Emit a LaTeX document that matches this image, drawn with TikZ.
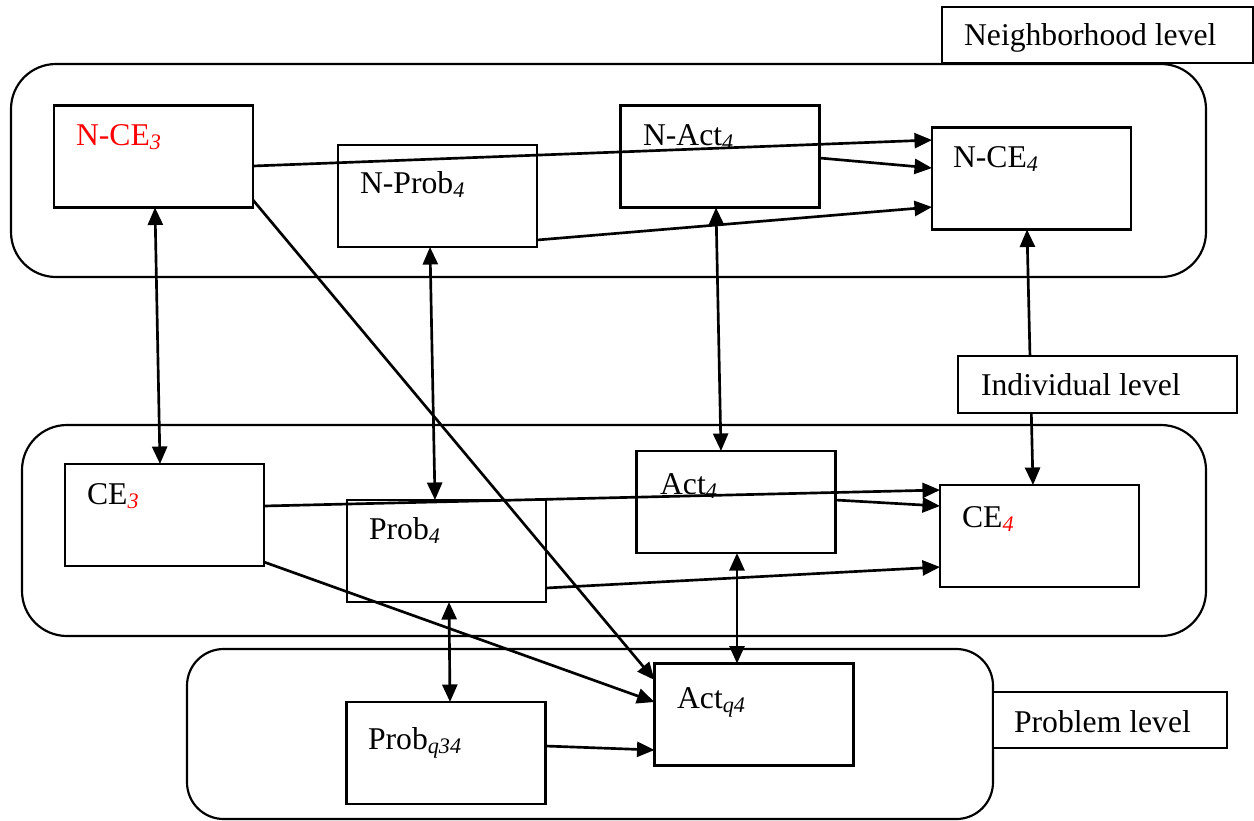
\documentclass[tikz,border=0pt]{standalone}
\usepackage{fontspec}
\setmainfont{Liberation Serif}
\usetikzlibrary{arrows.meta,calc}
\begin{document}
\begin{tikzpicture}[x=0.6pt,y=-0.6pt, line width=1.3pt,
 box/.style={draw, minimum width=119.4pt, minimum height=61.2pt, inner sep=0pt, outer sep=0pt},
 lbl/.style={anchor=base west, inner sep=0pt, font=\fontsize{19}{23}\selectfont},
 lvl/.style={draw, fill=white, inner sep=0pt, outer sep=0pt},
 grp/.style={draw, rounded corners=27pt},
 arr/.style={line width=1.6pt, -{Triangle[length=10.5pt,width=9pt]}},
 darr/.style={line width=1.6pt, {Triangle[length=10.5pt,width=9pt]}-{Triangle[length=10.5pt,width=9pt]}}]
\useasboundingbox (0,0) rectangle (1254,820);

% group containers
\draw[grp] (11,64) rectangle (1206,277);
\draw[grp] (22,425) rectangle (1206,636);
\draw[grp, rounded corners=22pt] (187,649) rectangle (993,819);

% boxes
\node[box] (nce3)  at (153.5,156.5) {};
\node[box] (nprob4) at (437.5,196) {};
\node[box] (nact4) at (720,156.5) {};
\node[box] (nce4)  at (1031.5,178.5) {};
\node[box] (ce3)   at (164.5,515) {};
\node[box] (prob4) at (446.5,551) {};
\node[box] (act4)  at (736,502) {};
\node[box] (ce4)   at (1039.5,536) {};
\node[box] (probq) at (446,753) {};
\node[box] (actq)  at (754,714.5) {};

% connectors
\draw[arr] ($(nce3.east)+(0,9.5)$) -- ($(nce4.west)+(0,-38.5)$);
\draw[arr] ($(nact4.east)+(0,1.5)$) -- ($(nce4.west)+(0,-10.5)$);
\draw[arr] ($(nprob4.east)+(0,44)$) -- ($(nce4.west)+(0,28.5)$);
\draw[arr] ($(nce3.east)+(0,43.5)$) -- ($(actq.west)+(0,-34.5)$);
\draw[darr] ($(nce3.south)+(1.5,0)$) -- ($(ce3.north)+(-4.5,0)$);
\draw[darr] ($(nprob4.south)+(-7.5,0)$) -- ($(prob4.north)+(-11.5,0)$);
\draw[darr] ($(nact4.south)+(-4,0)$) -- ($(act4.north)+(-15,0)$);
\draw[darr] ($(nce4.south)+(-4.5,0)$) -- ($(ce4.north)+(-6.5,0)$);
\draw[arr] ($(ce3.east)+(0,-9)$) -- ($(ce4.west)+(0,-46)$);
\draw[arr] ($(act4.east)+(0,-2)$) -- ($(ce4.west)+(0,-30)$);
\draw[arr] ($(prob4.east)+(0,37)$) -- ($(ce4.west)+(0,31)$);
\draw[arr] ($(ce3.east)+(0,47)$) -- ($(actq.west)+(0,-12.5)$);
\draw[darr] ($(prob4.south)+(2.5,0)$) -- ($(probq.north)+(4,0)$);
\draw[darr] ($(act4.south)+(1,0)$) -- ($(actq.north)+(-17,0)$);
\draw[arr] ($(probq.east)+(0,-7)$) -- ($(actq.west)+(0,35.5)$);

% level boxes
\node[lvl, minimum width=186.6pt, minimum height=33.6pt] (nbl) at (1097.5,35) {};
\node[lvl, minimum width=167.4pt, minimum height=34.2pt] (ibl) at (1097.5,384.5) {};
\node[lvl, minimum width=140.4pt, minimum height=33.6pt] (pbl) at (1110,720) {};
\node[lbl] (nblt) at (963,45) {Neighborhood level};
\node[lbl] (iblt) at (980,395) {Individual level};
\node[lbl] (pblt) at (1013,732) {Problem level};

% box texts
\node[lbl, text=red] (nce3t) at (75,145) {N-CE\textsubscript{\textit{3}}};
\node[lbl] (nprob4t) at (359,193) {N-Prob\textsubscript{\textit{4}}};
\node[lbl] (nact4t) at (642,145) {N-Act\textsubscript{\textit{4}}};
\node[lbl] (nce4t) at (952,167) {N-CE\textsubscript{\textit{4}}};
\node[lbl] (ce3t) at (86,504) {CE\textsubscript{\textcolor{red}{\textit{3}}}};
\node[lbl] (prob4t) at (368,539) {Prob\textsubscript{\textit{4}}};
\node[lbl] (act4t) at (659,494) {Act\textsubscript{\textit{4}}};
\node[lbl] (ce4t) at (961,527) {CE\textsubscript{\textcolor{red}{\textit{4}}}};
\node[lbl] (probqt) at (367,749) {Prob\textsubscript{\textit{q34}}};
\node[lbl] (actqt) at (676,708) {Act\textsubscript{\textit{q4}}};
\end{tikzpicture}
\end{document}
